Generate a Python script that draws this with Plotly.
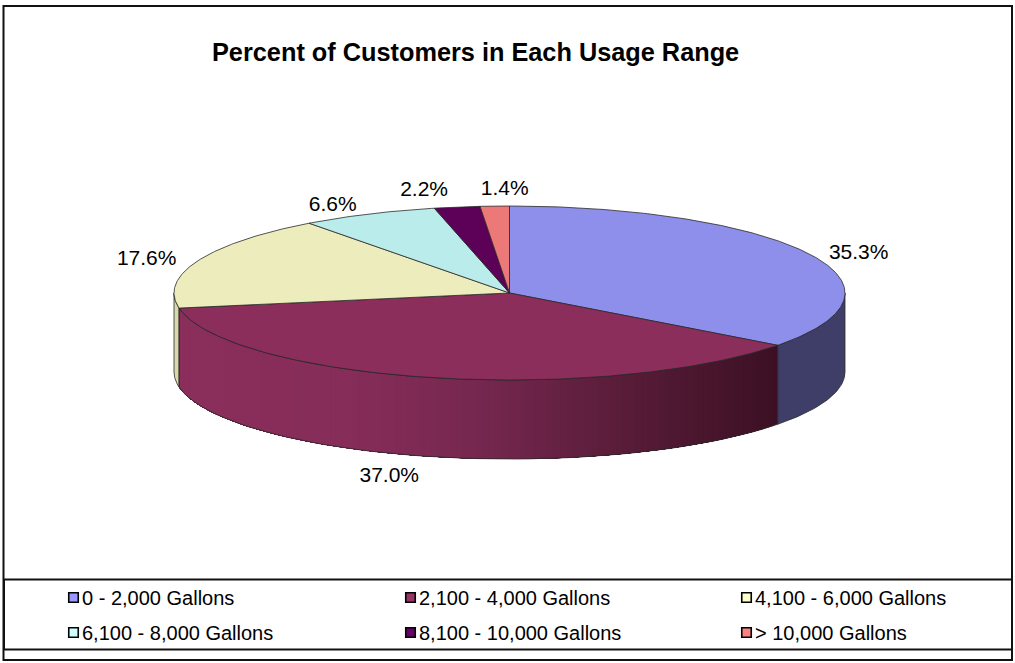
import numpy as np
import plotly.graph_objects as go

title = "Percent of Customers in Each Usage Range"
categories = ["0 - 2,000 Gallons", "2,100 - 4,000 Gallons", "4,100 - 6,000 Gallons",
              "6,100 - 8,000 Gallons", "8,100 - 10,000 Gallons", "> 10,000 Gallons"]
shares = [35.3, 37.0, 17.6, 6.6, 2.2, 1.4]
top_colors = ["#8E8FEA", "#8B2E5C", "#ECECBC", "#BBECEC", "#5C0058", "#EC7878"]
swatch_colors = ["#9999FF", "#993366", "#FFFFCC", "#CCFFFF", "#660066", "#FF8080"]

W, H = 1015, 663
CX, CY, RX, RY, DEPTH = 509.5, 293, 335.5, 87, 79
OUT = "#2a2a2a"
label_offsets = [(49, 0), (-42, 99), (-51, -1), (-36, -8), (-33, -16), (10, -16)]
legend_cols = [73.5, 410.5, 746.5]
legend_rows = [598, 633]


def ell(deg, dy=0.0):
    t = np.radians(deg)
    return CX + RX * np.sin(t), CY - RY * np.cos(t) + dy


def lerp_rgb(x, xs, cs):
    return "rgb(%d,%d,%d)" % tuple(int(round(np.interp(x, xs, [c[i] for c in cs]))) for i in range(3))


cum = np.cumsum([0] + shares) / sum(shares) * 360
fig = go.Figure()


def poly(xs, ys, fill, line=None, lw=0.8):
    fig.add_trace(go.Scatter(x=xs, y=ys, mode="lines", fill="toself", fillcolor=fill,
                             line=dict(color=line or fill, width=lw), hoverinfo="skip", showlegend=False))


def side(a0, a1, color_fn, n):
    # painter's order: each band reaches to the far end, the next one covers it, so no seams show
    edges = np.linspace(a0, a1, n + 1)
    for u in edges[:-1]:
        ang = np.linspace(u, a1, 40)
        x, y = ell(ang)
        x2, y2 = ell(ang[::-1], DEPTH)
        poly(list(x) + list(x2), list(y) + list(y2), color_fn(x[0]), lw=0)


maroon_xs = [176, 350, 480, 620, 778]
maroon_cs = [(139, 46, 92), (134, 45, 89), (118, 40, 79), (90, 29, 58), (60, 16, 36)]

side(90, cum[1], lambda x: "#3E3E68", 1)
side(cum[1], cum[2], lambda x: lerp_rgb(x, maroon_xs, maroon_cs), 120)
side(cum[2], 270, lambda x: "#D9D9AC", 1)


def outline(a0, a1):
    ang = np.linspace(a0, a1, 60)
    x, y = ell(ang)
    x2, y2 = ell(ang[::-1], DEPTH)
    xs = list(x) + list(x2) + [x[0]]
    ys = list(y) + list(y2) + [y[0]]
    fig.add_trace(go.Scatter(x=xs, y=ys, mode="lines", line=dict(color=OUT, width=0.8),
                             hoverinfo="skip", showlegend=False))


outline(90, cum[1])
outline(cum[1], cum[2])
outline(cum[2], 270)

for i, c in enumerate(top_colors):
    ang = np.linspace(cum[i], cum[i + 1], max(3, int(cum[i + 1] - cum[i]) * 2))
    x, y = ell(ang)
    poly([CX] + list(x) + [CX], [CY] + list(y) + [CY], c, line=OUT)

for i, v in enumerate(shares):
    mx, my = ell((cum[i] + cum[i + 1]) / 2)
    dx, dy = label_offsets[i]
    fig.add_trace(go.Scatter(x=[mx + dx], y=[my + dy], mode="text", text=[f"{v:.1f}%"],
                             textposition="middle center",
                             textfont=dict(family="Liberation Sans", size=21, color="black"),
                             hoverinfo="skip", showlegend=False))

for i, name in enumerate(categories):
    lx, ly = legend_cols[i % 3], legend_rows[i // 3]
    fig.add_trace(go.Scatter(x=[lx], y=[ly - 0.5], mode="markers",
                             marker=dict(symbol="square", size=9.5, color=swatch_colors[i],
                                         line=dict(color="black", width=1.6)),
                             hoverinfo="skip", showlegend=False))
    fig.add_trace(go.Scatter(x=[lx + 8.5], y=[ly + 2], mode="text", text=[name], textposition="middle right",
                             textfont=dict(family="Liberation Sans", size=20, color="black"),
                             hoverinfo="skip", showlegend=False))

fig.update_layout(
    width=W, height=H, margin=dict(l=0, r=0, t=0, b=0), autosize=False,
    paper_bgcolor="white", plot_bgcolor="white", showlegend=False,
    xaxis=dict(range=[0, W], visible=False, fixedrange=True),
    yaxis=dict(range=[H, 0], visible=False, fixedrange=True),
    annotations=[dict(x=475, y=52, xref="x", yref="y", text=f"<b>{title}</b>", showarrow=False,
                      font=dict(family="Liberation Sans", size=25.3, color="black"))],
    shapes=[
        dict(type="rect", x0=3.5, y0=6, x1=1012, y1=660, line=dict(color="#111", width=2), layer="below"),
        dict(type="rect", x0=4, y0=579.5, x1=1012, y1=649.5, line=dict(color="#111", width=2), layer="below"),
    ],
)
fig.write_html("out.html", config=dict(displayModeBar=False),
               post_script="document.body.style.margin='0';document.body.style.overflow='hidden';")
